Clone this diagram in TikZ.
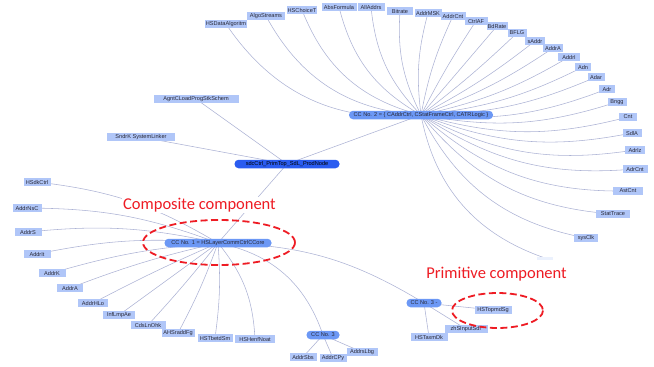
\documentclass[tikz,border=0pt]{standalone}
\usepackage{fontspec}
\setmainfont{Liberation Sans}
\newfontfamily\notefont{Carlito}
\usetikzlibrary{backgrounds}
\definecolor{leafblue}{RGB}{176,198,248}
\definecolor{hubblue}{RGB}{108,152,245}
\definecolor{rootblue}{RGB}{42,92,240}
\definecolor{leaftext}{RGB}{40,40,55}
\definecolor{linkgray}{RGB}{172,178,212}
\definecolor{notered}{RGB}{238,28,36}
\begin{document}
\begin{tikzpicture}[x=1pt, y=-1pt,
    leaf/.style={fill=leafblue, text=leaftext, font=\fontsize{5.6}{6.5}\selectfont, inner xsep=1pt, inner ysep=0pt, minimum height=8pt},
    hub/.style={leaf, fill=hubblue, rounded corners=4pt, minimum height=8.5pt},
    rootnode/.style={hub, fill=rootblue, text=black},
    link/.style={draw=linkgray, line width=0.55pt},
    note/.style={font=\notefont\fontsize{16.5}{18}\selectfont, text=notered, fill=white, inner sep=1pt, anchor=base},
    ring/.style={draw=notered, line width=1.8pt, dash pattern=on 7pt off 3.5pt}]
    \useasboundingbox (0,0) rectangle (654,367);
    % Component nodes
    \node[rootnode, minimum width=105] (root) at (287,164) {sdcCtrl\_PrimTop\_SdL\_ProdNode};
    \node[hub, minimum width=144] (h2) at (421,115) {CC No. 2 = \{ CAddrCtrl, CStatFrameCtrl, CATRLogic \}};
    \node[hub, minimum width=107] (h1) at (218,243) {CC No. 1 = HSLayerCommCtrlCCore};
    \node[hub, minimum width=35] (h3) at (424,303) {CC No. 3 -};
    \node[hub, minimum width=33] (h4) at (323,335) {CC No. 3};
    % Leaves of the root
    \node[leaf, minimum width=85] (r1) at (196,99) {AgntCLoadProgStkSchem}; \node[leaf, minimum width=68] (r2) at (141,137) {SndrK SystemLinker};
    % Leaves of CC No. 2
    \node[leaf, minimum width=40] (a1) at (226,24) {HSDataAlgoritm}; \node[leaf, minimum width=38] (a2) at (266,16) {AlgoStreams};
    \node[leaf, minimum width=30] (a3) at (302,10) {HSChoiceT}; \node[leaf, minimum width=35] (a4) at (339,7) {AbsFormula};
    \node[leaf, minimum width=27] (a5) at (371,7) {AllAddrs}; \node[leaf, minimum width=26] (a6) at (400,11) {Bitrate};
    \node[leaf, minimum width=27] (a7) at (428,13) {AddrMSK}; \node[leaf, minimum width=25] (a8) at (453,16) {AddrCnt};
    \node[leaf, minimum width=23] (a9) at (476,21) {CtrlAF}; \node[leaf, minimum width=21] (a10) at (497,26) {BdRate};
    \node[leaf, minimum width=19] (a11) at (517,33) {BFLG}; \node[leaf, minimum width=20] (a12) at (535,41) {sAddr};
    \node[leaf, minimum width=20] (a13) at (553,48) {AddrA}; \node[leaf, minimum width=22] (a14) at (569,57) {AddrI};
    \node[leaf, minimum width=16] (a15) at (583,67) {Adn}; \node[leaf, minimum width=17] (a16) at (596,77) {Adar};
    \node[leaf, minimum width=16] (a17) at (607,89) {Adr}; \node[leaf, minimum width=19] (a18) at (617,102) {Bngg};
    \node[leaf, minimum width=18] (a19) at (628,117) {Cnt}; \node[leaf, minimum width=19] (a20) at (632,133) {SdlA};
    \node[leaf, minimum width=20] (a21) at (635,150) {Adrlz}; \node[leaf, minimum width=25] (a22) at (635,169) {AdrCnt};
    \node[leaf, minimum width=30] (a23) at (628,191) {AstCnt}; \node[leaf, minimum width=34] (a24) at (613,214) {StatTrace};
    \node[leaf, minimum width=24] (a25) at (586,238) {sysClk}; \node[leaf, fill=leafblue!25, minimum width=16, minimum height=3pt] (a26) at (545,258) {};
    % Leaves of CC No. 1
    \node[leaf, minimum width=27] (b1) at (37,182) {HSdkCtrl}; \node[leaf, minimum width=29] (b2) at (27,208) {AddrNsC};
    \node[leaf, minimum width=27] (b3) at (28,232) {AddrS}; \node[leaf, minimum width=27] (b4) at (37,254) {AddrIt};
    \node[leaf, minimum width=27] (b5) at (52,273) {AddrK}; \node[leaf, minimum width=26] (b6) at (70,288) {AddrA};
    \node[leaf, minimum width=30] (b7) at (93,303) {AddrHLo}; \node[leaf, minimum width=32] (b8) at (119,315) {InfLmpAe};
    \node[leaf, minimum width=35] (b9) at (148,325) {CdsLnOhk}; \node[leaf, minimum width=33] (b10) at (178,333) {AHSraddFg};
    \node[leaf, minimum width=35] (b11) at (215,338) {HSTbetdSm}; \node[leaf, minimum width=40] (b12) at (255,339) {HSHenfNoat};
    % Leaves of the two CC No. 3
    \node[leaf, minimum width=37] (c1) at (493,310) {HSTopmdSg}; \node[leaf, minimum width=43] (c2) at (466,329) {zhSInputSdr};
    \node[leaf, minimum width=37] (c3) at (429,337) {HSTaxmDk};
    \node[leaf, minimum width=27] (d1) at (303,357) {AddrSbs}; \node[leaf, minimum width=27] (d2) at (333,358) {AddrCPy};
    \node[leaf, minimum width=31] (d3) at (362,352) {AddrsLbg};
    % Links
    \begin{scope}[on background layer]
    \draw[link] (root.center) -- (h2.center); \draw[link] (root.center) -- (h1.center);
    \draw[link] (root.center) -- (r1.center); \draw[link] (root.center) -- (r2.center);
    \draw[link] (h1.center) to[bend left=15] (h3.center); \draw[link] (h1.center) to[bend left=30] (h4.center);
    \draw[link] (h2.center) to[bend left=31] (a1.center); \draw[link] (h2.center) to[bend left=29] (a2.center);
    \draw[link] (h2.center) to[bend left=27] (a3.center); \draw[link] (h2.center) to[bend left=23] (a4.center);
    \draw[link] (h2.center) to[bend left=19] (a5.center); \draw[link] (h2.center) to[bend left=15] (a6.center);
    \draw[link] (h2.center) to[bend left=11] (a7.center); \draw[link] (h2.center) to[bend left=7] (a8.center);
    \draw[link] (h2.center) to[bend left=3] (a9.center); \draw[link] (h2.center) -- (a10.center);
    \draw[link] (h2.center) to[bend right=3] (a11.center); \draw[link] (h2.center) to[bend right=5] (a12.center);
    \draw[link] (h2.center) to[bend right=7] (a13.center); \draw[link] (h2.center) to[bend right=9] (a14.center);
    \draw[link] (h2.center) to[bend right=10] (a15.center); \draw[link] (h2.center) to[bend right=11] (a16.center);
    \draw[link] (h2.center) to[bend right=13] (a17.center); \draw[link] (h2.center) to[bend right=14] (a18.center);
    \draw[link] (h2.center) to[bend right=15] (a19.center); \draw[link] (h2.center) to[bend right=16] (a20.center);
    \draw[link] (h2.center) to[bend right=18] (a21.center); \draw[link] (h2.center) to[bend right=19] (a22.center);
    \draw[link] (h2.center) to[bend right=21] (a23.center); \draw[link] (h2.center) to[bend right=23] (a24.center);
    \draw[link] (h2.center) to[bend right=26] (a25.center); \draw[link] (h2.center) to[bend right=30] (a26.center);
    \draw[link] (h1.center) to[bend right=12] (b1.center); \draw[link] (h1.center) to[bend right=10] (b2.center);
    \draw[link] (h1.center) to[bend right=9] (b3.center); \draw[link] (h1.center) to[bend right=8] (b4.center);
    \draw[link] (h1.center) to[bend right=6] (b5.center); \draw[link] (h1.center) to[bend right=4] (b6.center);
    \draw[link] (h1.center) to[bend right=2] (b7.center); \draw[link] (h1.center) -- (b8.center);
    \draw[link] (h1.center) to[bend left=2] (b9.center); \draw[link] (h1.center) to[bend left=4] (b10.center);
    \draw[link] (h1.center) to[bend left=6] (b11.center); \draw[link] (h1.center) to[bend left=18] (b12.center);
    \draw[link] (h3.center) -- (c1.center); \draw[link] (h3.center) -- (c2.center); \draw[link] (h3.center) -- (c3.center);
    \draw[link] (h4.center) -- (d1.center); \draw[link] (h4.center) -- (d2.center); \draw[link] (h4.center) -- (d3.center);
    \end{scope}
    % Annotations
    \node[note] (composite) at (199.5,209) {Composite component};
    \node[note] (primitive) at (496.5,278.5) {Primitive component};
    \draw[ring] (219,242.5) ellipse [x radius=76, y radius=22.5];
    \draw[ring] (497.5,310.5) ellipse [x radius=45.5, y radius=17.5];
\end{tikzpicture}
\end{document}
